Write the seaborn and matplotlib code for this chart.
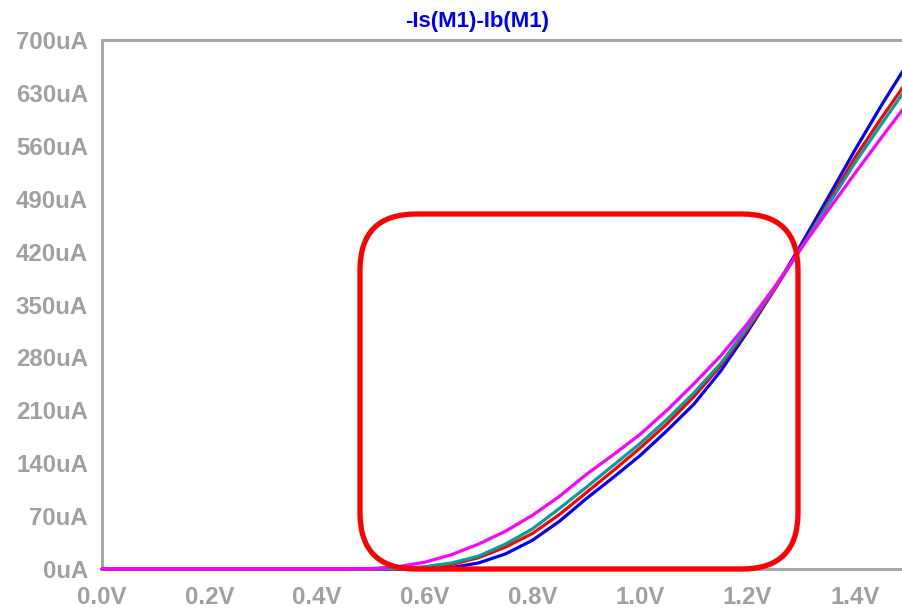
import numpy as np
import pandas as pd
import matplotlib
matplotlib.use("Agg")
import matplotlib.pyplot as plt
import seaborn as sns
from matplotlib.patches import FancyBboxPatch

# ---- data ----
vgs = [0.0, 0.45, 0.5, 0.55, 0.6, 0.65, 0.7, 0.75, 0.8, 0.85, 0.9, 0.95,
       1.0, 1.05, 1.1, 1.15, 1.2, 1.25, 1.3, 1.35, 1.4, 1.45, 1.5]
i_blue = [0, 0, 0, 0, 0.5, 2, 8, 20, 38, 63, 93, 121,
          150, 183, 218, 262, 314, 370, 430, 492, 555, 615, 672]
i_red = [0, 0, 0, 0.3, 2, 6, 15, 29, 47, 72, 101, 130,
         160, 192, 228, 269, 317, 370, 425, 485, 545, 598, 649]
i_teal = [0, 0, 0, 0.5, 3, 8, 17, 33, 53, 80, 108, 137,
          166, 198, 233, 272, 320, 372, 425, 482, 538, 590, 641]
i_magenta = [0, 0, 0.5, 3, 9, 19, 33, 50, 71, 96, 125, 151,
             178, 210, 245, 282, 325, 373, 425, 475, 524, 572, 619]

trace_names = ["blue", "red", "teal", "magenta"]
trace_colors = ["#0000ff", "#ff0000", "#00a0a0", "#ff00ff"]
y_ticks = [0, 70, 140, 210, 280, 350, 420, 490, 560, 630, 700]
x_ticks = [0.0, 0.2, 0.4, 0.6, 0.8, 1.0, 1.2, 1.4]
title_text = "-Is(M1)-Ib(M1)"

rows = []
for name, vals in zip(trace_names, [i_blue, i_red, i_teal, i_magenta]):
    for v, i in zip(vgs, vals):
        rows.append({"V": v, "I": i, "trace": name})
df = pd.DataFrame(rows)

sns.set_style("white")
plt.rcParams["font.family"] = ["Liberation Sans", "DejaVu Sans"]
plt.rcParams["font.weight"] = "bold"

grey = "#a8a8a8"
fig = plt.figure(figsize=(9.02, 6.12), dpi=100)
ax = fig.add_axes([102 / 902, 43 / 612, 800 / 902, 529 / 612])

sns.lineplot(data=df, x="V", y="I", hue="trace", hue_order=trace_names,
             palette=dict(zip(trace_names, trace_colors)), legend=False,
             linewidth=2.3, ax=ax, sort=False)
for ln in ax.get_lines():
    ln.set_clip_on(False)
    ln.set_zorder(3)
    ln.set_solid_joinstyle("round")

ax.set_xlim(0, 800 / 538)
ax.set_ylim(0, 700)
ax.set_xticks(x_ticks)
ax.set_xticklabels([f"{t:.1f}V" for t in x_ticks])
ax.set_yticks(y_ticks)
ax.set_yticklabels([f"{t}uA" for t in y_ticks])
ax.set_xlabel("")
ax.set_ylabel("")

for side in ["left", "top", "bottom"]:
    ax.spines[side].set_visible(True)
    ax.spines[side].set_color(grey)
    ax.spines[side].set_linewidth(2.2)
ax.spines["right"].set_visible(False)

ax.tick_params(axis="both", colors=grey, length=9.5, width=2, labelsize=17.3,
               labelcolor="#a0a0a0")
ax.tick_params(axis="y", pad=0.5)
ax.tick_params(axis="x", pad=3)
for lab in ax.get_xticklabels() + ax.get_yticklabels():
    lab.set_fontweight("bold")

# red rounded rectangle annotation
px_per_v = 538.0
uA_per_px = 700 / 529
x0, x1 = (360 - 102) / px_per_v, (798 - 102) / px_per_v
y0, y1 = 0.0, (569 - 214) * uA_per_px
r = 56 / px_per_v
box = FancyBboxPatch((x0, y0), x1 - x0, y1 - y0,
                     boxstyle=f"round,pad=0,rounding_size={r}",
                     mutation_aspect=uA_per_px * px_per_v,
                     fill=False, edgecolor="#ff0000", linewidth=3.8,
                     clip_on=False, zorder=10)
ax.add_patch(box)

fig.text(477 / 902, 1 - 22 / 612, title_text, color="#0000ff", fontsize=16,
         fontweight="bold", ha="center", va="center")

fig.savefig("out.png", dpi=100)
